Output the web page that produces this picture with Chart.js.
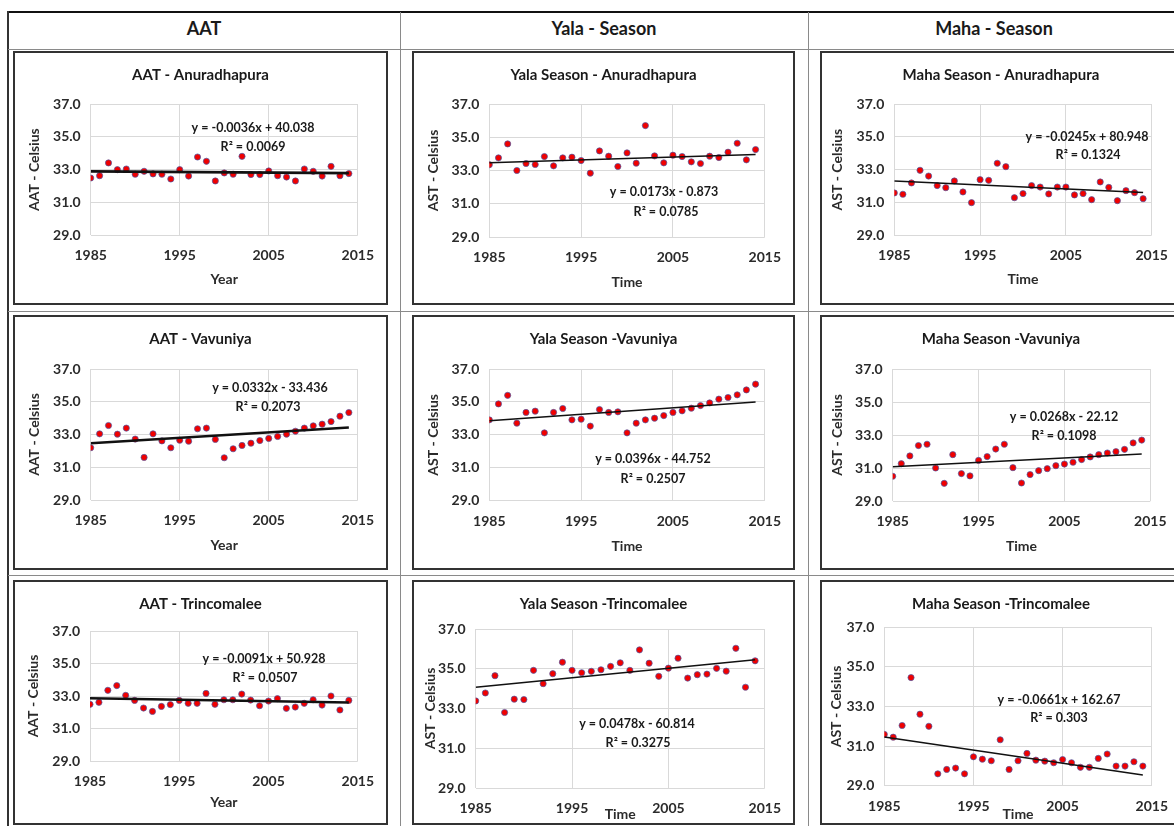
<!DOCTYPE html>
<html>
<head>
<meta charset="utf-8">
<script src="https://cdn.jsdelivr.net/npm/chart.js@4.4.1/dist/chart.umd.min.js"></script>
<style>
  html, body { margin: 0; padding: 0; background: #fff; }
  body { width: 1174px; height: 826px; overflow: hidden; position: relative; font-family: Lato, sans-serif; }
  .line { position: absolute; background: #8a8a8a; }
  .head { position: absolute; top: 12px; height: 32px; line-height: 32px; text-align: center;
          font-weight: bold; font-size: 18px; color: #1a1a1a; }
  .box { position: absolute; border: 2px solid #333; box-sizing: border-box; background: #fff; }
  .box canvas { display: block; }
</style>
</head>
<body>
<script>
// --- data ---
const years = [1985, 1986, 1987, 1988, 1989, 1990, 1991, 1992, 1993, 1994,
               1995, 1996, 1997, 1998, 1999, 2000, 2001, 2002, 2003, 2004,
               2005, 2006, 2007, 2008, 2009, 2010, 2011, 2012, 2013, 2014];

const aatAnuradhapura  = [32.49, 32.63, 33.41, 33.0, 33.04, 32.72, 32.9, 32.74, 32.72, 32.43,
                          33.0, 32.61, 33.77, 33.51, 32.31, 32.8, 32.72, 33.81, 32.7, 32.7,
                          32.92, 32.63, 32.55, 32.31, 33.04, 32.9, 32.61, 33.2, 32.63, 32.76];
const yalaAnuradhapura = [33.35, 33.76, 34.6, 33.0, 33.42, 33.36, 33.84, 33.28, 33.76, 33.8,
                          33.6, 32.84, 34.18, 33.86, 33.24, 34.06, 33.44, 35.7, 33.88, 33.46,
                          33.92, 33.84, 33.52, 33.42, 33.86, 33.78, 34.1, 34.64, 33.64, 34.26];
const mahaAnuradhapura = [31.58, 31.5, 32.19, 32.96, 32.61, 32.03, 31.9, 32.31, 31.64, 30.99,
                          32.39, 32.35, 33.39, 33.18, 31.29, 31.54, 32.03, 31.94, 31.52, 31.94,
                          31.94, 31.46, 31.54, 31.17, 32.25, 31.92, 31.11, 31.72, 31.6, 31.23];
const aatVavuniya      = [32.19, 33.04, 33.55, 33.02, 33.39, 32.72, 31.6, 33.04, 32.61, 32.19,
                          32.65, 32.59, 33.35, 33.39, 32.7, 31.58, 32.13, 32.33, 32.47, 32.63,
                          32.76, 32.88, 33.02, 33.2, 33.39, 33.53, 33.63, 33.79, 34.12, 34.34];
const yalaVavuniya     = [33.91, 34.88, 35.4, 33.71, 34.36, 34.44, 33.12, 34.36, 34.6, 33.91,
                          33.95, 33.53, 34.54, 34.36, 34.4, 33.12, 33.71, 33.91, 34.01, 34.17,
                          34.36, 34.46, 34.62, 34.78, 34.94, 35.17, 35.27, 35.43, 35.73, 36.08];
const mahaVavuniya     = [30.5, 31.26, 31.73, 32.36, 32.44, 31.0, 30.07, 31.81, 30.66, 30.52,
                          31.46, 31.69, 32.15, 32.44, 31.02, 30.09, 30.6, 30.84, 30.96, 31.14,
                          31.24, 31.35, 31.51, 31.67, 31.81, 31.91, 31.99, 32.13, 32.52, 32.69];
const aatTrincomalee   = [32.49, 32.61, 33.35, 33.64, 33.04, 32.73, 32.26, 32.05, 32.36, 32.47,
                          32.73, 32.55, 32.55, 33.16, 32.49, 32.77, 32.77, 33.12, 32.75, 32.4,
                          32.69, 32.84, 32.24, 32.32, 32.55, 32.77, 32.44, 33.0, 32.14, 32.73];
const yalaTrincomalee  = [33.38, 33.78, 34.65, 32.8, 33.47, 33.45, 34.92, 34.25, 34.75, 35.33,
                          34.92, 34.8, 34.87, 34.95, 35.12, 35.3, 34.92, 35.95, 35.28, 34.62,
                          35.03, 35.53, 34.53, 34.7, 34.73, 35.02, 34.88, 36.03, 34.07, 35.4];
const mahaTrincomalee  = [31.59, 31.45, 32.04, 34.46, 32.61, 32.0, 29.6, 29.82, 29.89, 29.6,
                          30.46, 30.34, 30.26, 31.32, 29.82, 30.26, 30.63, 30.29, 30.24, 30.16,
                          30.32, 30.16, 29.93, 29.93, 30.38, 30.6, 29.99, 29.99, 30.21, 29.99];

const series = [aatAnuradhapura, yalaAnuradhapura, mahaAnuradhapura,
                aatVavuniya, yalaVavuniya, mahaVavuniya,
                aatTrincomalee, yalaTrincomalee, mahaTrincomalee];

// trendline equations as printed on each chart
const slopes     = [-0.0036, 0.0173, -0.0245, 0.0332, 0.0396, 0.0268, -0.0091, 0.0478, -0.0661];
const intercepts = [40.038, -0.873, 80.948, -33.436, -44.752, -22.12, 50.928, -60.814, 162.67];
const rSquared   = [0.0069, 0.0785, 0.1324, 0.2073, 0.2507, 0.1098, 0.0507, 0.3275, 0.303];

const columnHeads = ['AAT', 'Yala - Season', 'Maha - Season'];
const chartTitles = ['AAT - Anuradhapura', 'Yala Season - Anuradhapura', 'Maha Season - Anuradhapura',
                     'AAT - Vavuniya', 'Yala Season -Vavuniya', 'Maha Season -Vavuniya',
                     'AAT - Trincomalee', 'Yala Season -Trincomalee', 'Maha Season -Trincomalee'];
const yTitles = ['AAT - Celsius', 'AST - Celsius', 'AST - Celsius'];
const xTitles = ['Year', 'Time', 'Time'];
const yTicks = [29, 31, 33, 35, 37];
const xTicks = [1985, 1995, 2005, 2015];

// --- page layout (page pixels) ---
const headCols = [[8, 400], [400, 808], [808, 1180]];
const titleRowY = [75, 339, 604];
const panels = [
  { box: [13, 51, 375, 254],  area: [90.7, 104, 360.7, 235.3],  yT: 34,    xT: 279,   eq: [253, 128, 253, 147] },
  { box: [412, 51, 383, 254], area: [489.3, 104, 765.3, 237],   yT: 433,   xT: 282.7, eq: [664, 191.7, 666, 211.7] },
  { box: [820, 51, 362, 254], area: [894.3, 104, 1151.7, 235.3], yT: 837.7, xT: 279.3, eq: [1087, 136.7, 1088, 155] },
  { box: [13, 315, 375, 255], area: [90.7, 369, 360.7, 500],    yT: 34,    xT: 545.7, eq: [270, 388, 268, 407] },
  { box: [412, 315, 383, 255], area: [489.3, 369, 765.3, 500.7], yT: 433,   xT: 546.7, eq: [653, 459, 653, 479] },
  { box: [820, 315, 362, 255], area: [892.7, 369, 1150.3, 501], yT: 837.7, xT: 546.7, eq: [1064, 416.7, 1064, 436] },
  { box: [13, 580, 375, 245], area: [90, 631, 360, 761],        yT: 33.3,  xT: 802.7, eq: [264, 659, 265, 677.7] },
  { box: [412, 580, 383, 245], area: [475.7, 629, 766.7, 788],  yT: 430,   xT: 815,   eq: [637, 724.3, 638, 743.3] },
  { box: [820, 580, 362, 245], area: [884.3, 627.3, 1153.3, 785.7], yT: 836.7, xT: 815, eq: [1059, 700, 1059, 718.3] }
];

function addLine(x, y, w, h, color) {
  const d = document.createElement('div');
  d.className = 'line';
  Object.assign(d.style, { left: x + 'px', top: y + 'px', width: w + 'px', height: h + 'px' });
  if (color) d.style.background = color;
  document.body.appendChild(d);
}

// table frame
addLine(8, 11, 1170, 2, '#111');
addLine(7, 11, 2, 820, '#333');
addLine(399.5, 12, 1.5, 820);
addLine(807.5, 12, 1.5, 820);
addLine(8, 48.5, 1170, 1.5);
addLine(8, 310.5, 1170, 1.5);
addLine(8, 574.5, 1170, 1.5);

columnHeads.forEach((txt, i) => {
  const d = document.createElement('div');
  d.className = 'head';
  d.textContent = txt;
  d.style.left = headCols[i][0] + 'px';
  d.style.width = (headCols[i][1] - headCols[i][0]) + 'px';
  document.body.appendChild(d);
});

// titles and trendline equation drawn on each canvas
const panelText = {
  id: 'panelText',
  afterDraw(chart, args, opts) {
    const ctx = chart.ctx;
    ctx.save();
    ctx.fillStyle = '#1a1a1a';
    ctx.textAlign = 'center';
    ctx.textBaseline = 'middle';
    ctx.font = 'bold 15px Lato';
    ctx.fillText(opts.title, chart.width / 2, opts.titleY);
    ctx.font = 'bold 12.5px Lato';
    opts.lines.forEach(l => ctx.fillText(l.text, l.x, l.y));
    ctx.restore();
  }
};

const tickFont = { family: 'Lato', size: 14, weight: 'bold' };
const axisTitleFont = { family: 'Lato', size: 14, weight: 'bold' };
const axisLH = 14 * 1.2;

panels.forEach((p, i) => {
  const [bx, by, bw, bh] = p.box;
  const box = document.createElement('div');
  box.className = 'box';
  Object.assign(box.style, { left: bx + 'px', top: by + 'px', width: bw + 'px', height: bh + 'px' });
  const canvas = document.createElement('canvas');
  const cx = bx + 2, cy = by + 2, cw = bw - 4, ch = bh - 4;
  canvas.width = cw;
  canvas.height = ch;
  box.appendChild(canvas);
  document.body.appendChild(box);

  const [al, at, ar, ab] = p.area;
  const leftW = al - cx;
  const bottomH = ch - (ab - cy);
  const col = i % 3;

  const slope = slopes[i], icpt = intercepts[i];
  const eqText = 'y = ' + slope + 'x ' + (icpt < 0 ? '- ' : '+ ') + Math.abs(icpt);
  const r2Text = 'R\u00B2 = ' + rSquared[i];
  const first = years[0], last = years[years.length - 1];

  new Chart(canvas, {
    type: 'scatter',
    data: {
      datasets: [
        {
          type: 'line',
          data: [{ x: first, y: slope * first + icpt }, { x: last, y: slope * last + icpt }],
          borderColor: '#111',
          borderWidth: col === 0 ? 2.6 : 1.5,
          pointRadius: 0,
          fill: false
        },
        {
          data: years.map((y, k) => ({ x: y, y: series[i][k] })),
          pointRadius: 3.1,
          pointBackgroundColor: '#f00000',
          pointBorderColor: '#4a5aa8',
          pointBorderWidth: 0.7
        }
      ]
    },
    options: {
      responsive: false,
      animation: false,
      devicePixelRatio: 1,
      layout: { padding: { left: 0, top: at - cy, right: cw - (ar - cx), bottom: 0 } },
      plugins: {
        legend: { display: false },
        tooltip: { enabled: false },
        panelText: {
          title: chartTitles[i],
          titleY: titleRowY[Math.floor(i / 3)] - cy,
          lines: [
            { text: eqText, x: p.eq[0] - cx, y: p.eq[1] - cy },
            { text: r2Text, x: p.eq[2] - cx, y: p.eq[3] - cy }
          ]
        }
      },
      scales: {
        x: {
          type: 'linear',
          min: 1985,
          max: 2015,
          afterBuildTicks: s => { s.ticks = xTicks.map(v => ({ value: v })); },
          afterFit: s => { s.height = bottomH; },
          grid: { color: '#d9d9d9', drawTicks: false },
          border: { display: false },
          ticks: { padding: 12, color: '#2b2b2b', font: tickFont, maxRotation: 0, callback: v => String(v) },
          title: {
            display: true, text: xTitles[col], color: '#2b2b2b', font: axisTitleFont,
            padding: { top: 0, bottom: Math.max(0, ch - (p.xT - cy) - axisLH / 2) }
          }
        },
        y: {
          min: 29,
          max: 37,
          afterBuildTicks: s => { s.ticks = yTicks.map(v => ({ value: v })); },
          afterFit: s => { s.width = leftW; },
          grid: { color: '#d9d9d9', drawTicks: false },
          border: { display: false },
          ticks: { padding: 10, color: '#2b2b2b', font: tickFont, callback: v => v.toFixed(1) },
          title: {
            display: true, text: yTitles[col], color: '#2b2b2b', font: axisTitleFont,
            padding: { top: Math.max(0, p.yT - cx - axisLH / 2), bottom: 0 }
          }
        }
      }
    },
    plugins: [panelText]
  });
});
</script>
</body>
</html>
